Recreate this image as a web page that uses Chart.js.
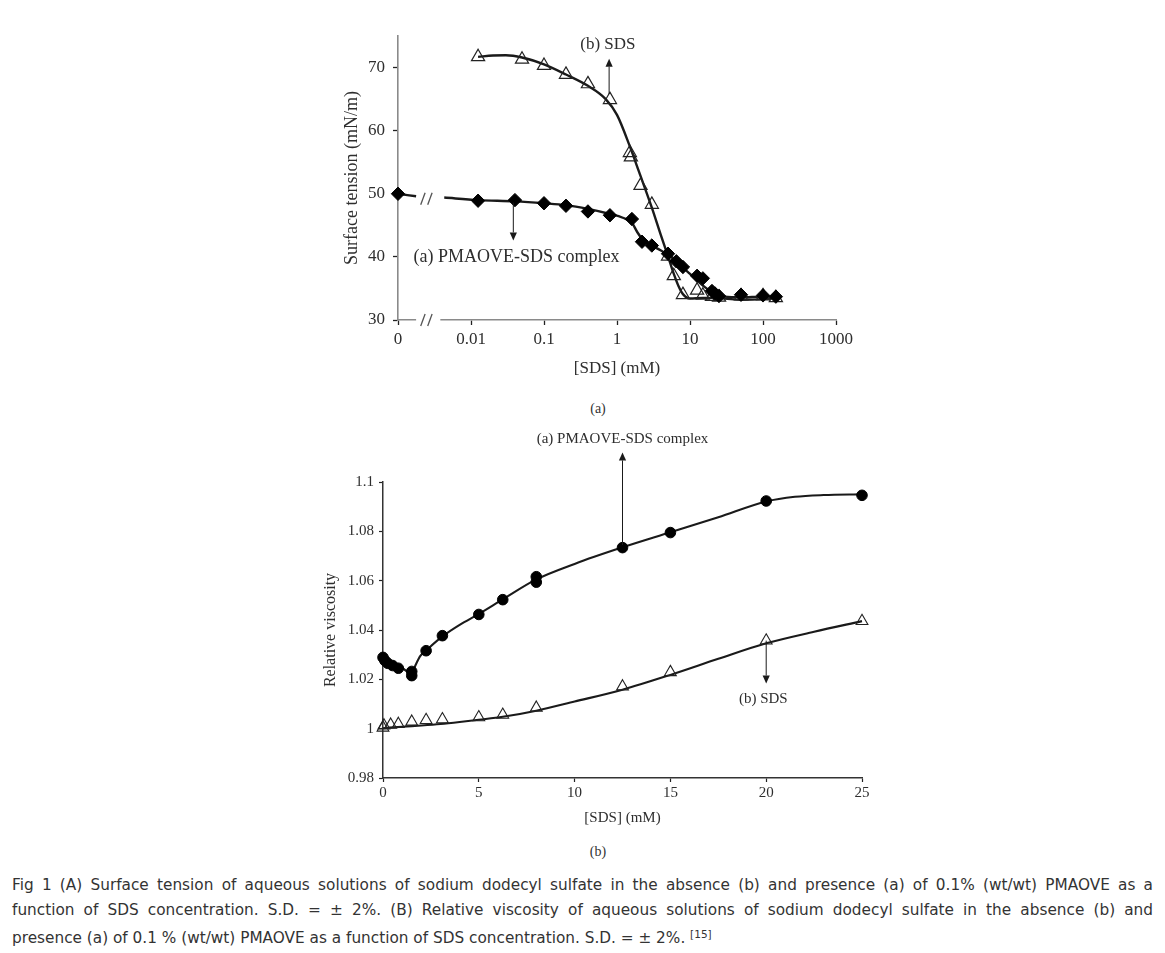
<!DOCTYPE html>
<html>
<head>
<meta charset="utf-8">
<script src="https://cdn.jsdelivr.net/npm/chart.js@4.4.1/dist/chart.umd.min.js"></script>
<style>
  html,body{margin:0;padding:0;background:#fff;}
  body{width:1165px;height:953px;position:relative;overflow:hidden;font-family:"Liberation Serif",serif;}
  #c1{position:absolute;left:0;top:0;}
  #c2{position:absolute;left:0;top:425px;}
  .sub{position:absolute;width:40px;margin-left:-20px;text-align:center;font-size:14px;color:#333;font-family:"Liberation Serif",serif;}
  #cap{position:absolute;left:12px;top:873px;width:1141px;font-family:"DejaVu Sans",sans-serif;font-size:15.3px;line-height:24.5px;color:#333;}
  #cap .j{text-align:justify;text-align-last:justify;}
  #cap sup{font-size:10.5px;vertical-align:5px;}
</style>
</head>
<body>
<canvas id="c1" width="1165" height="400"></canvas>
<canvas id="c2" width="1165" height="410"></canvas>
<div class="sub" style="left:598px;top:401px;">(a)</div>
<div class="sub" style="left:598px;top:844px;">(b)</div>
<div id="cap">
  <div class="j">Fig 1 (A) Surface tension of aqueous solutions of sodium dodecyl sulfate in the absence (b) and presence (a) of 0.1% (wt/wt) PMAOVE as a</div>
  <div class="j">function of SDS concentration. S.D. = ± 2%. (B) Relative viscosity of aqueous solutions of sodium dodecyl sulfate in the absence (b) and</div>
  <div>presence (a) of 0.1 % (wt/wt) PMAOVE as a function of SDS concentration. S.D. = ± 2%. <sup>[15]</sup></div>
</div>
<script>
// ---------- (a) Surface tension vs [SDS] (log axis; "0" plotted at 0.001) ----------
const stTickValues = [0.001, 0.01, 0.1, 1, 10, 100, 1000];
const stTickLabels = ['0', '0.01', '0.1', '1', '10', '100', '1000'];
const stYTicks = [30, 40, 50, 60, 70];

const sdsX = [0.0125, 0.05, 0.1, 0.2, 0.4, 0.8, 1.5, 1.55, 2.1, 3.0, 5.0, 6.0, 8.0, 12.5, 15, 20, 25, 50, 100, 150];
const sdsY = [71.7, 71.3, 70.3, 68.9, 67.4, 64.9, 56.5, 55.8, 51.3, 48.3, 40.1, 37.0, 34.0, 34.7, 33.9, 33.7, 33.6, 33.8, 33.8, 33.5];

const pmaX = [0.001, 0.0125, 0.04, 0.1, 0.2, 0.4, 0.8, 1.6, 2.2, 3.0, 5.0, 6.5, 8.0, 12.5, 15, 20, 22, 25, 50, 100, 150];
const pmaY = [50.0, 48.9, 49.0, 48.5, 48.1, 47.2, 46.6, 46.0, 42.4, 41.8, 40.5, 39.3, 38.4, 37.0, 36.6, 34.6, 34.2, 33.8, 34.0, 33.9, 33.7];

// fitted curves
const sdsFitX = [0.0125, 0.02, 0.03, 0.05, 0.1, 0.2, 0.4, 0.7, 1.0, 1.5, 2.0, 3.0, 4.0, 5.0, 6.0, 7.0, 8.0, 10, 15, 20, 30, 50, 100, 150];
const sdsFitY = [71.7, 71.9, 71.95, 71.6, 70.5, 68.9, 67.1, 65.0, 62.5, 57.5, 53.5, 47.8, 43.4, 40.1, 37.3, 35.3, 34.1, 33.4, 33.5, 33.5, 33.4, 33.2, 33.3, 33.5];

const pmaFitX = [0.001, 0.00177, 0.0026, 0.0043, 0.0125, 0.04, 0.1, 0.2, 0.4, 0.8, 1.2, 1.6, 1.9, 2.3, 3.0, 4.0, 5.0, 6.5, 8, 10, 13, 16, 20, 25, 30, 50, 100, 150];
const pmaFitY = [50.0, 49.6, null, 49.4, 49.0, 48.8, 48.5, 48.2, 47.6, 46.8, 46.2, 45.4, 43.9, 42.6, 41.8, 41.0, 40.3, 39.3, 38.3, 37.3, 36.1, 35.2, 34.4, 33.9, 33.7, 33.6, 33.7, 33.7];

// ---------- (b) Relative viscosity vs [SDS] ----------
const rvXTicks = [0, 5, 10, 15, 20, 25];
const rvYTicks = [0.98, 1.0, 1.02, 1.04, 1.06, 1.08, 1.1];
const rvYLabels = ['0.98', '1', '1.02', '1.04', '1.06', '1.08', '1.1'];

const pmaViscX = [0, 0.1, 0.25, 0.5, 0.8, 1.5, 1.5, 2.25, 3.1, 5, 6.25, 8, 8, 12.5, 15, 20, 25];
const pmaViscY = [1.0289, 1.0276, 1.0265, 1.0256, 1.0245, 1.0232, 1.0215, 1.0316, 1.0377, 1.0463, 1.0523, 1.0616, 1.0594, 1.0734, 1.0795, 1.0923, 1.0946];

const sdsViscX = [0, 0.05, 0.4, 0.8, 1.5, 2.25, 3.1, 5, 6.25, 8, 12.5, 15, 20, 25];
const sdsViscY = [1.0004, 1.0013, 1.0016, 1.0019, 1.0028, 1.0035, 1.0038, 1.0046, 1.0056, 1.0085, 1.0171, 1.0229, 1.0357, 1.0436];

const pmaViscFitX = [0, 0.3, 0.6, 1.0, 1.5, 1.7, 1.95, 2.25, 3.1, 4, 5, 6.25, 8, 10, 12.5, 15, 17.5, 20, 21.5, 23, 25];
const pmaViscFitY = [1.0288, 1.0272, 1.0258, 1.0246, 1.0222, 1.0258, 1.0295, 1.0317, 1.0374, 1.0421, 1.0465, 1.0524, 1.0605, 1.0668, 1.0735, 1.0796, 1.0857, 1.0921, 1.0940, 1.0947, 1.0950];

const sdsViscFitX = [0, 1, 2, 3, 4, 5, 6.25, 8, 10, 12.5, 15, 17.5, 20, 22.5, 25];
const sdsViscFitY = [1.0002, 1.0008, 1.0013, 1.0019, 1.0027, 1.0036, 1.0048, 1.0073, 1.0110, 1.0158, 1.0218, 1.0283, 1.0346, 1.0393, 1.0436];

const pts = (xs, ys) => xs.map((x, i) => ({x: x, y: ys[i]}));
const INK = '#1a1a1a';
const TXT = '#2e2e2e';

function drawArrow(ctx, x, y1, y2) {
  const dir = y2 < y1 ? -1 : 1;
  const head = 8, hw = 3.6;
  ctx.save();
  ctx.strokeStyle = INK; ctx.fillStyle = INK; ctx.lineWidth = 1;
  ctx.beginPath(); ctx.moveTo(x, y1); ctx.lineTo(x, y2 - dir * head); ctx.stroke();
  ctx.beginPath(); ctx.moveTo(x, y2); ctx.lineTo(x - hw, y2 - dir * head); ctx.lineTo(x + hw, y2 - dir * head); ctx.closePath(); ctx.fill();
  ctx.restore();
}

function annotPlugin(cfg) {
  return {
    id: 'annot',
    afterDraw(chart) {
      const ctx = chart.ctx, xs = chart.scales.x, ys = chart.scales.y;
      (cfg.arrows || []).forEach(a => drawArrow(ctx, xs.getPixelForValue(a.x), ys.getPixelForValue(a.from), ys.getPixelForValue(a.to)));
      (cfg.texts || []).forEach(t => {
        ctx.save();
        ctx.font = t.font; ctx.fillStyle = TXT; ctx.textAlign = 'center'; ctx.textBaseline = 'middle';
        ctx.fillText(t.text, xs.getPixelForValue(t.x), ys.getPixelForValue(t.y));
        ctx.restore();
      });
      if (cfg.breaks) {
        const ca = chart.chartArea;
        const g1 = xs.getPixelForValue(cfg.breaks.gapFrom), g2 = xs.getPixelForValue(cfg.breaks.gapTo);
        ctx.save();
        ctx.fillStyle = '#fff';
        ctx.fillRect(g1, ca.bottom - 2, g2 - g1, 4);
        ctx.strokeStyle = '#555'; ctx.lineWidth = 1.3;
        const cx = xs.getPixelForValue(cfg.breaks.center);
        cfg.breaks.ys.forEach(v => {
          const cy = ys.getPixelForValue(v);
          [-3.5, 3.5].forEach(dx => {
            ctx.beginPath();
            ctx.moveTo(cx + dx - 2.2, cy + 6);
            ctx.lineTo(cx + dx + 2.2, cy - 6);
            ctx.stroke();
          });
        });
        ctx.restore();
      }
    }
  };
}

function fixedTicks(values) {
  return function (scale) { scale.ticks = values.map(v => ({value: v})); };
}

// ----- chart (a) -----
new Chart(document.getElementById('c1'), {
  type: 'line',
  data: {
    datasets: [
      { data: pts(pmaX, pmaY), showLine: false, pointStyle: 'rectRot', pointRadius: 6.7, pointBackgroundColor: '#000', pointBorderColor: '#000', pointBorderWidth: 1, clip: false },
      { data: pts(sdsX, sdsY), showLine: false, pointStyle: 'triangle', pointRadius: 7.6, pointBackgroundColor: 'rgba(0,0,0,0)', pointBorderColor: '#222', pointBorderWidth: 1.2, clip: false },
      { data: pts(pmaFitX, pmaFitY), borderColor: INK, borderWidth: 2.4, pointRadius: 0, cubicInterpolationMode: 'monotone', spanGaps: false, clip: false },
      { data: pts(sdsFitX, sdsFitY), borderColor: INK, borderWidth: 2.4, pointRadius: 0, cubicInterpolationMode: 'monotone', clip: false }
    ]
  },
  options: {
    responsive: false, animation: false, devicePixelRatio: 1,
    layout: { padding: { left: 300, right: 329, top: 36, bottom: 20 } },
    plugins: { legend: { display: false }, tooltip: { enabled: false } },
    scales: {
      x: {
        type: 'logarithmic', min: 0.001, max: 1000,
        afterBuildTicks: fixedTicks(stTickValues),
        afterFit: s => { s.height = 60; },
        ticks: { autoSkip: false, maxRotation: 0, padding: 4, color: TXT, font: { family: 'Liberation Serif', size: 17 },
                 callback: (v, i) => stTickLabels[i] },
        grid: { display: true, drawOnChartArea: false, drawTicks: true, tickLength: 5, tickColor: '#222', tickWidth: 1.3 },
        border: { display: true, color: '#8a8a8a', width: 1.6 },
        title: { display: true, text: '[SDS] (mM)', color: TXT, font: { family: 'Liberation Serif', size: 17 }, padding: { top: 0, bottom: 1 } }
      },
      y: {
        type: 'linear', min: 30, max: 75,
        afterBuildTicks: fixedTicks(stYTicks),
        afterFit: s => { s.width = 98; },
        ticks: { padding: 8, color: TXT, font: { family: 'Liberation Serif', size: 17 } },
        grid: { display: true, drawOnChartArea: false, drawTicks: true, tickLength: 5, tickColor: '#222', tickWidth: 1.3 },
        border: { display: true, color: '#8a8a8a', width: 1.6 },
        title: { display: true, text: 'Surface tension (mN/m)', color: TXT, font: { family: 'Liberation Serif', size: 18 }, padding: { top: 41, bottom: 0 } }
      }
    }
  },
  plugins: [annotPlugin({
    arrows: [ { x: 0.78, from: 65.8, to: 71.4 }, { x: 0.038, from: 48.6, to: 42.6 } ],
    texts: [ { text: '(b) SDS', x: 0.75, y: 73.6, font: '17px "Liberation Serif"' },
             { text: '(a) PMAOVE-SDS complex', x: 0.042, y: 39.9, font: '18px "Liberation Serif"' } ],
    breaks: { gapFrom: 0.00177, gapTo: 0.0038, center: 0.00245, ys: [30, 49.2] }
  })]
});

// ----- chart (b) -----
new Chart(document.getElementById('c2'), {
  type: 'line',
  data: {
    datasets: [
      { data: pts(pmaViscX, pmaViscY), showLine: false, pointStyle: 'circle', pointRadius: 5.3, pointBackgroundColor: '#000', pointBorderColor: '#000', pointBorderWidth: 1, clip: false },
      { data: pts(sdsViscX, sdsViscY), showLine: false, pointStyle: 'triangle', pointRadius: 6.8, pointBackgroundColor: 'rgba(0,0,0,0)', pointBorderColor: '#222', pointBorderWidth: 1.1, clip: false },
      { data: pts(pmaViscFitX, pmaViscFitY), borderColor: INK, borderWidth: 2.1, pointRadius: 0, cubicInterpolationMode: 'monotone', clip: false },
      { data: pts(sdsViscFitX, sdsViscFitY), borderColor: INK, borderWidth: 2.1, pointRadius: 0, cubicInterpolationMode: 'monotone', clip: false }
    ]
  },
  options: {
    responsive: false, animation: false, devicePixelRatio: 1,
    layout: { padding: { left: 283, right: 303, top: 57, bottom: 7 } },
    plugins: { legend: { display: false }, tooltip: { enabled: false } },
    scales: {
      x: {
        type: 'linear', min: 0, max: 25,
        afterBuildTicks: fixedTicks(rvXTicks),
        afterFit: s => { s.height = 50; },
        ticks: { autoSkip: false, maxRotation: 0, padding: 2, color: TXT, font: { family: 'Liberation Serif', size: 15 } },
        grid: { display: true, drawOnChartArea: false, drawTicks: true, tickLength: 4, tickColor: '#222', tickWidth: 1.2 },
        border: { display: true, color: '#333', width: 1.5 },
        title: { display: true, text: '[SDS] (mM)', color: TXT, font: { family: 'Liberation Serif', size: 15 }, padding: { top: 0, bottom: 1 } }
      },
      y: {
        type: 'linear', min: 0.98, max: 1.1,
        afterBuildTicks: fixedTicks(rvYTicks),
        afterFit: s => { s.width = 100; },
        ticks: { padding: 5, color: TXT, font: { family: 'Liberation Serif', size: 15 }, callback: (v, i) => rvYLabels[i] },
        grid: { display: true, drawOnChartArea: false, drawTicks: true, tickLength: 4, tickColor: '#222', tickWidth: 1.2 },
        border: { display: true, color: '#333', width: 1.5 },
        title: { display: true, text: 'Relative viscosity', color: TXT, font: { family: 'Liberation Serif', size: 16 }, padding: { top: 38, bottom: 0 } }
      }
    }
  },
  plugins: [annotPlugin({
    arrows: [ { x: 12.5, from: 1.0745, to: 1.112 }, { x: 20, from: 1.0357, to: 1.0183 } ],
    texts: [ { text: '(a) PMAOVE-SDS complex', x: 12.5, y: 1.1176, font: '15px "Liberation Serif"' },
             { text: '(b) SDS', x: 19.85, y: 1.0118, font: '15px "Liberation Serif"' } ]
  })]
});
</script>
</body>
</html>
